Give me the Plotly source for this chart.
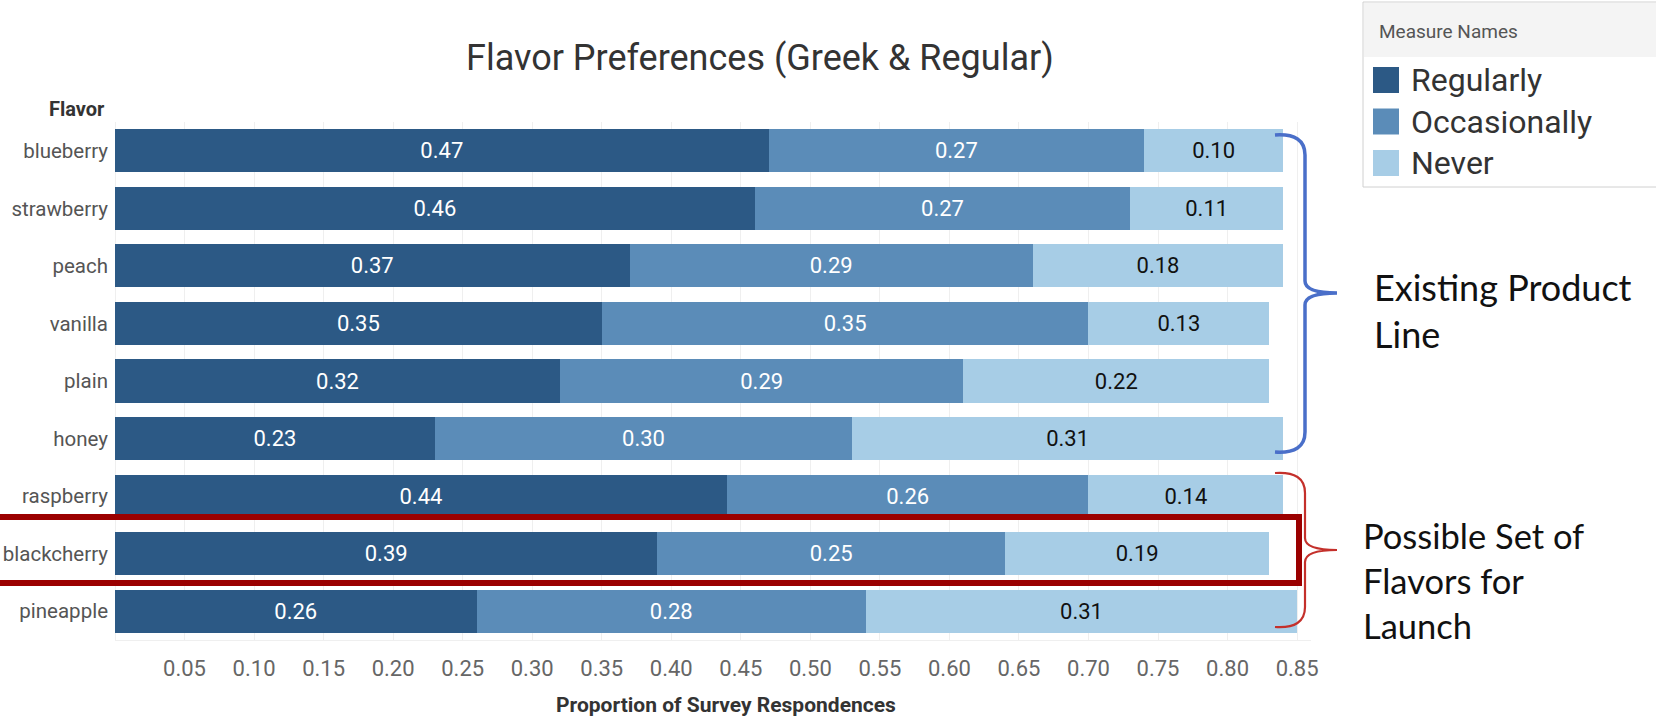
import plotly.graph_objects as go

# ---- data -------------------------------------------------------------
FLAVORS = ["blueberry", "strawberry", "peach", "vanilla", "plain",
           "honey", "raspberry", "blackcherry", "pineapple"]
REGULARLY = [0.47, 0.46, 0.37, 0.35, 0.32, 0.23, 0.44, 0.39, 0.26]
OCCASIONALLY = [0.27, 0.27, 0.29, 0.35, 0.29, 0.30, 0.26, 0.25, 0.28]
NEVER = [0.10, 0.11, 0.18, 0.13, 0.22, 0.31, 0.14, 0.19, 0.31]
SERIES_NAMES = ["Regularly", "Occasionally", "Never"]
X_TICK_VALUES = [0.05, 0.10, 0.15, 0.20, 0.25, 0.30, 0.35, 0.40, 0.45,
                 0.50, 0.55, 0.60, 0.65, 0.70, 0.75, 0.80, 0.85]
X_TICK_LABELS = ["0.05", "0.10", "0.15", "0.20", "0.25", "0.30", "0.35",
                 "0.40", "0.45", "0.50", "0.55", "0.60", "0.65", "0.70",
                 "0.75", "0.80", "0.85"]

# ---- styling ----------------------------------------------------------
COLORS = ["#2c5985", "#5b8cb8", "#a7cde6"]
TEXT_COLORS = ["white", "white", "#111111"]
BASE_FONT = "Roboto, Arial, sans-serif"
NOTE_FONT = "Lato, Roboto, sans-serif"

W, H = 1656, 722
M_L, M_R, M_T, M_B = 115, 345, 122, 82
PLOT_W = W - M_L - M_R
PLOT_H = H - M_T - M_B


def px(x):
    """Horizontal pixel position -> paper coordinate."""
    return (x - M_L) / PLOT_W


def py(y):
    """Vertical pixel position (from top) -> paper coordinate."""
    return (H - M_B - y) / PLOT_H


fig = go.Figure()
for name, vals, col, tcol in zip(SERIES_NAMES, [REGULARLY, OCCASIONALLY, NEVER],
                                 COLORS, TEXT_COLORS):
    fig.add_trace(go.Bar(
        y=FLAVORS, x=vals, name=name, orientation="h",
        marker=dict(color=col, line=dict(width=0)),
        text=[f"{v:.2f}" for v in vals],
        textposition="inside", insidetextanchor="middle", textangle=0,
        textfont=dict(family=BASE_FONT, size=22, color=tcol),
        showlegend=False,
    ))

shapes = []
annotations = []

# highlight box around the blackcherry row
shapes.append(dict(type="rect", xref="paper", yref="paper",
                   x0=px(-10), x1=px(1299), y0=py(517), y1=py(583),
                   line=dict(color="#9b0000", width=6), layer="above"))


def brace(y_top, y_bot, y_mid, color, width):
    x0, xv, xt = 1275, 1305, 1337
    pts = (f"M {px(x0)},{py(y_top)} "
           f"Q {px(xv)},{py(y_top - 2)} {px(xv)},{py(y_top + 20)} "
           f"L {px(xv)},{py(y_mid - 12)} "
           f"Q {px(xv)},{py(y_mid)} {px(xt)},{py(y_mid)} "
           f"Q {px(xv)},{py(y_mid)} {px(xv)},{py(y_mid + 12)} "
           f"L {px(xv)},{py(y_bot - 20)} "
           f"Q {px(xv)},{py(y_bot + 2)} {px(x0)},{py(y_bot)}")
    return dict(type="path", xref="paper", yref="paper", path=pts,
                line=dict(color=color, width=width))


shapes.append(brace(135, 452, 293, "#4a6fc9", 3.5))
shapes.append(brace(473, 627, 550, "#c4302b", 2.2))

annotations.append(dict(xref="paper", yref="paper", x=px(1372), y=py(310),
                        xanchor="left", yanchor="middle", align="left",
                        text="Existing Product<br>Line", showarrow=False,
                        font=dict(family=NOTE_FONT, size=36, color="#111111")))
annotations.append(dict(xref="paper", yref="paper", x=px(1361), y=py(580),
                        xanchor="left", yanchor="middle", align="left",
                        text="Possible Set of<br>Flavors for<br>Launch",
                        showarrow=False,
                        font=dict(family=NOTE_FONT, size=34.5, color="#111111")))

# legend panel
shapes.append(dict(type="rect", xref="paper", yref="paper",
                   x0=px(1363), x1=px(1665), y0=py(2), y1=py(187),
                   line=dict(color="#d0d0d0", width=1), fillcolor="white",
                   layer="below"))
shapes.append(dict(type="rect", xref="paper", yref="paper",
                   x0=px(1364), x1=px(1665), y0=py(3), y1=py(57),
                   line=dict(width=0), fillcolor="#f4f4f4", layer="below"))
annotations.append(dict(xref="paper", yref="paper", x=px(1377), y=py(31),
                        xanchor="left", yanchor="middle",
                        text="Measure Names", showarrow=False,
                        font=dict(family=BASE_FONT, size=19, color="#555555")))
for i, (name, col) in enumerate(zip(SERIES_NAMES, COLORS)):
    yc = 80 + 41.5 * i
    shapes.append(dict(type="rect", xref="paper", yref="paper",
                       x0=px(1373), x1=px(1399), y0=py(yc - 13), y1=py(yc + 13),
                       line=dict(width=0), fillcolor=col))
    annotations.append(dict(xref="paper", yref="paper", x=px(1409), y=py(yc),
                            xanchor="left", yanchor="middle", text=name,
                            showarrow=False,
                            font=dict(family=BASE_FONT, size=32, color="#333333")))

# title, row header and axis title
annotations.append(dict(xref="paper", yref="paper", x=px(760), y=py(58),
                        xanchor="center", yanchor="middle",
                        text="Flavor Preferences (Greek & Regular)",
                        showarrow=False,
                        font=dict(family=BASE_FONT, size=36, color="#333333")))
annotations.append(dict(xref="paper", yref="paper", x=px(107), y=py(109),
                        xanchor="right", yanchor="middle", text="<b>Flavor</b>",
                        showarrow=False,
                        font=dict(family=BASE_FONT, size=20, color="#333333")))
annotations.append(dict(xref="paper", yref="paper", x=px(726), y=py(705),
                        xanchor="center", yanchor="middle",
                        text="<b>Proportion of Survey Respondences</b>",
                        showarrow=False,
                        font=dict(family=BASE_FONT, size=21, color="#333333")))

fig.update_layout(
    width=W, height=H, autosize=False,
    margin=dict(l=M_L, r=M_R, t=M_T, b=M_B, pad=0),
    barmode="stack", bargap=0.25,
    plot_bgcolor="white", paper_bgcolor="white",
    shapes=shapes, annotations=annotations,
    showlegend=False,
    xaxis=dict(range=[0, 0.86], tickvals=X_TICK_VALUES, ticktext=X_TICK_LABELS,
               automargin=False,
               showgrid=True, gridcolor="#efefef", gridwidth=1,
               zeroline=True, zerolinecolor="#efefef", zerolinewidth=1,
               showline=True, linecolor="#efefef", linewidth=1,
               ticks="", ticklabelstandoff=9,
               tickfont=dict(family=BASE_FONT, size=22, color="#666666")),
    yaxis=dict(categoryorder="array", categoryarray=FLAVORS,
               autorange="reversed", showgrid=False, zeroline=False,
               automargin=False,
               ticks="", ticklabelstandoff=6,
               tickfont=dict(family=BASE_FONT, size=20.5, color="#555555")),
)

fig.write_html("out.html")
